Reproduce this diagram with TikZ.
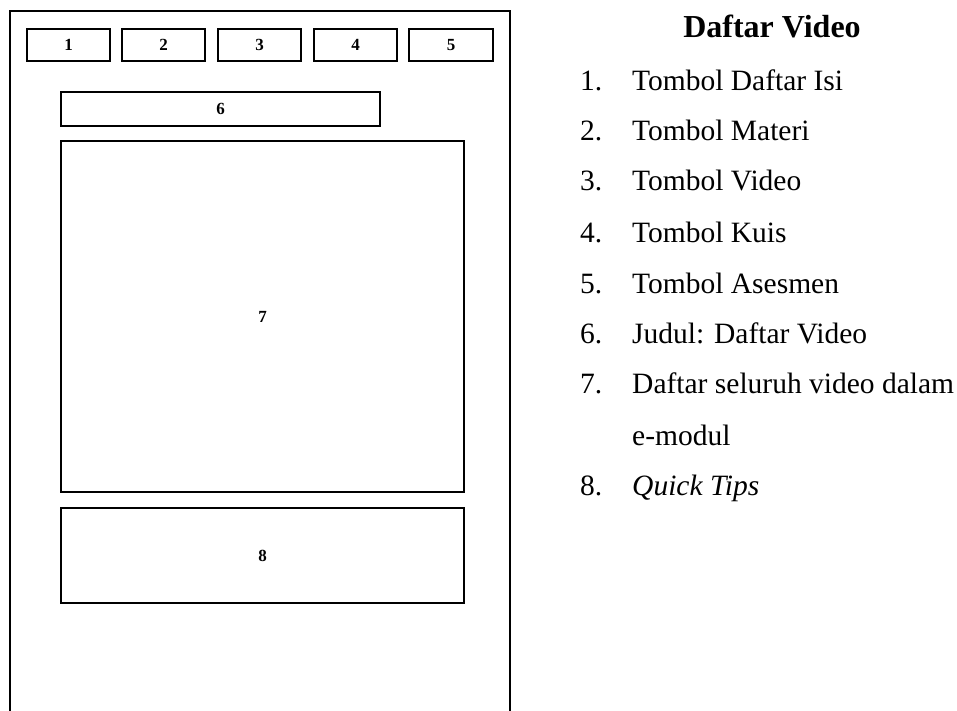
\documentclass[tikz,border=0pt]{standalone}
\usepackage{fontspec}
\setmainfont{Liberation Serif}
\begin{document}
\begin{tikzpicture}[x=1pt,y=-1pt,
  frame/.style={line width=2pt},
  box/.style={draw, line width=1.4pt, inner sep=0pt, font=\fontsize{17}{19}\selectfont\bfseries},
  itemtext/.style={anchor=base west, inner sep=0pt, font=\fontsize{29.5}{34}\selectfont},
  title/.style={anchor=base, inner sep=0pt, font=\fontsize{32}{36}\selectfont\bfseries}]
\useasboundingbox (0,0) rectangle (957,710);
\fill[white] (0,0) rectangle (957,710);
% outer frame (open at bottom)
\coordinate (fbl) at (10,712);
\coordinate (ftl) at (10,11);
\coordinate (ftr) at (510,11);
\coordinate (fbr) at (510,712);
\draw[frame] (fbl) -- (ftl) -- (ftr) -- (fbr);
% buttons
\node[box, minimum width=83pt, minimum height=32pt] (b1) at (68.5,45) {1};
\node[box, minimum width=83pt, minimum height=32pt] (b2) at (163.5,45) {2};
\node[box, minimum width=83pt, minimum height=32pt] (b3) at (259.5,45) {3};
\node[box, minimum width=83pt, minimum height=32pt] (b4) at (355.5,45) {4};
\node[box, minimum width=84pt, minimum height=32pt] (b5) at (451,45) {5};
% title box
\node[box, minimum width=319pt, minimum height=34pt] (b6) at (220.5,109) {6};
% content
\node[box, minimum width=403pt, minimum height=351pt] (b7) at (262.5,316.5) {7};
% quick tips
\node[box, minimum width=403pt, minimum height=95pt] (b8) at (262.5,555.5) {8};
% legend
\node[title] (t) at (772,37) {Daftar Video};
\node[itemtext] (n1) at (580,90) {1.};
\node[itemtext] (l1) at (632,90) {Tombol Daftar Isi};
\node[itemtext] (n2) at (580,140) {2.};
\node[itemtext] (l2) at (632,140) {Tombol Materi};
\node[itemtext] (n3) at (580,190) {3.};
\node[itemtext] (l3) at (632,190) {Tombol Video};
\node[itemtext] (n4) at (580,242) {4.};
\node[itemtext] (l4) at (632,242) {Tombol Kuis};
\node[itemtext] (n5) at (580,293) {5.};
\node[itemtext] (l5) at (632,293) {Tombol Asesmen};
\node[itemtext] (n6) at (580,343) {6.};
\node[itemtext] (l6) at (632,343) {Judul: Daftar Video};
\node[itemtext] (n7) at (580,393) {7.};
\node[itemtext] (l7) at (632,393) {Daftar seluruh video dalam};
\node[itemtext] (l7b) at (632,445) {e-modul};
\node[itemtext] (n8) at (580,495) {8.};
\node[itemtext] (l8) at (632,495) {\itshape Quick Tips};
\end{tikzpicture}
\end{document}
